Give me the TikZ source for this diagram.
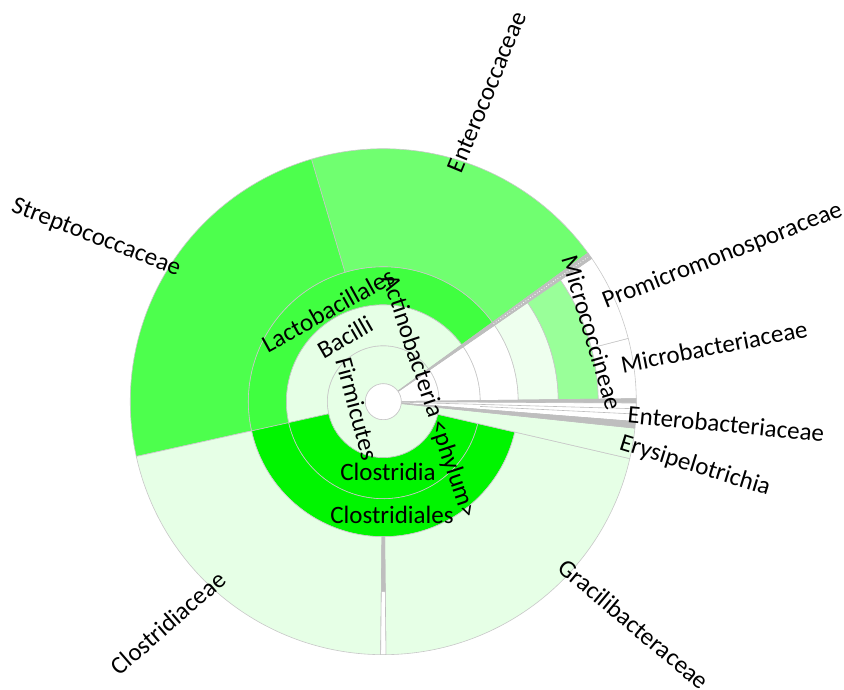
\documentclass[tikz,border=0pt]{standalone}
\usepackage{fontspec}
\setmainfont{Carlito}
\usepackage{tikz}

\definecolor{palegreen}{RGB}{230,255,230}
\definecolor{actgreen}{RGB}{238,255,238}
\definecolor{midgreen}{RGB}{153,255,153}
\definecolor{strepgreen}{RGB}{77,255,77}
\definecolor{lactgreen}{RGB}{64,255,64}
\definecolor{entgreen}{RGB}{112,255,112}
\definecolor{clogreen}{RGB}{0,245,0}
\definecolor{sepgray}{RGB}{190,190,190}
\definecolor{ringgray}{RGB}{200,200,200}

\begin{document}
\begin{tikzpicture}[x=1pt, y=1pt, line width=0.6pt,
  lbl/.style={font=\fontsize{25}{29}\selectfont, inner sep=0pt}]

\useasboundingbox (-383.3,-287.3) rectangle (460.7,401.7);

% draw Firmicutes, phylum ring
\filldraw[fill=palegreen, draw=ringgray] (36 : 18) arc [radius = 18, start angle = 36, end angle = 354]
                                         -- (354 : 56) arc [radius = 56, start angle = 354, end angle = 36]
                                         -- cycle;

% draw Bacilli and Lactobacillales
\filldraw[fill=palegreen, draw=ringgray] (36 : 56) arc [radius = 56, start angle = 36, end angle = 192.5]
                                         -- (192.5 : 97) arc [radius = 97, start angle = 192.5, end angle = 36]
                                         -- cycle;
\filldraw[fill=lactgreen, draw=ringgray] (36 : 97) arc [radius = 97, start angle = 36, end angle = 192.5]
                                         -- (192.5 : 135) arc [radius = 135, start angle = 192.5, end angle = 36]
                                         -- cycle;
\filldraw[fill=entgreen, draw=ringgray] (36 : 135) arc [radius = 135, start angle = 36, end angle = 106.5]
                                        -- (106.5 : 253) arc [radius = 253, start angle = 106.5, end angle = 36]
                                        -- cycle;
\filldraw[fill=strepgreen, draw=ringgray] (106.5 : 135) arc [radius = 135, start angle = 106.5, end angle = 192.5]
                                          -- (192.5 : 253) arc [radius = 253, start angle = 192.5, end angle = 106.5]
                                          -- cycle;

% draw Clostridia and Clostridiales
\filldraw[fill=clogreen, draw=ringgray] (192.5 : 56) arc [radius = 56, start angle = 192.5, end angle = 347]
                                        -- (347 : 97) arc [radius = 97, start angle = 347, end angle = 192.5]
                                        -- cycle;
\filldraw[fill=clogreen, draw=ringgray] (192.5 : 97) arc [radius = 97, start angle = 192.5, end angle = 347]
                                        -- (347 : 135) arc [radius = 135, start angle = 347, end angle = 192.5]
                                        -- cycle;
\filldraw[fill=palegreen, draw=ringgray] (192.5 : 135) arc [radius = 135, start angle = 192.5, end angle = 269.4]
                                         -- (269.4 : 253) arc [radius = 253, start angle = 269.4, end angle = 192.5]
                                         -- cycle;
\filldraw[fill=palegreen, draw=ringgray] (270.6 : 135) arc [radius = 135, start angle = 270.6, end angle = 347]
                                         -- (347 : 253) arc [radius = 253, start angle = 347, end angle = 270.6]
                                         -- cycle;

% draw thin slit between the two families
\filldraw[fill=sepgray, draw=sepgray] (269.4 : 135) arc [radius = 135, start angle = 269.4, end angle = 270.6]
                                      -- (270.6 : 190) arc [radius = 190, start angle = 270.6, end angle = 269.4]
                                      -- cycle;
\filldraw[fill=white, draw=sepgray] (269.4 : 190) arc [radius = 190, start angle = 269.4, end angle = 270.6]
                                    -- (270.6 : 253) arc [radius = 253, start angle = 270.6, end angle = 269.4]
                                    -- cycle;

% draw Erysipelotrichia
\filldraw[fill=palegreen, draw=ringgray] (347 : 56) arc [radius = 56, start angle = 347, end angle = 354]
                                         -- (354 : 253) arc [radius = 253, start angle = 354, end angle = 347]
                                         -- cycle;

% draw Actinobacteria rings
\filldraw[fill=white, draw=ringgray] (0.7 : 18) arc [radius = 18, start angle = 0.7, end angle = 34.5]
                                     -- (34.5 : 56) arc [radius = 56, start angle = 34.5, end angle = 0.7]
                                     -- cycle;
\filldraw[fill=white, draw=ringgray] (0.7 : 56) arc [radius = 56, start angle = 0.7, end angle = 34.5]
                                     -- (34.5 : 97) arc [radius = 97, start angle = 34.5, end angle = 0.7]
                                     -- cycle;
\filldraw[fill=white, draw=ringgray] (0.7 : 97) arc [radius = 97, start angle = 0.7, end angle = 34.5]
                                     -- (34.5 : 135) arc [radius = 135, start angle = 34.5, end angle = 0.7]
                                     -- cycle;
\filldraw[fill=actgreen, draw=ringgray] (0.7 : 135) arc [radius = 135, start angle = 0.7, end angle = 34.5]
                                        -- (34.5 : 175) arc [radius = 175, start angle = 34.5, end angle = 0.7]
                                        -- cycle;
\filldraw[fill=midgreen, draw=ringgray] (0.7 : 175) arc [radius = 175, start angle = 0.7, end angle = 34.5]
                                        -- (34.5 : 215) arc [radius = 215, start angle = 34.5, end angle = 0.7]
                                        -- cycle;
\filldraw[fill=white, draw=ringgray] (0.7 : 215) arc [radius = 215, start angle = 0.7, end angle = 14.5]
                                     -- (14.5 : 253) arc [radius = 253, start angle = 14.5, end angle = 0.7]
                                     -- cycle;
\filldraw[fill=white, draw=ringgray] (14.5 : 215) arc [radius = 215, start angle = 14.5, end angle = 34.5]
                                     -- (34.5 : 253) arc [radius = 253, start angle = 34.5, end angle = 14.5]
                                     -- cycle;

% draw small gray slits
\filldraw[fill=sepgray, draw=sepgray] (34.5 : 18) arc [radius = 18, start angle = 34.5, end angle = 36]
                                      -- (36 : 253) arc [radius = 253, start angle = 36, end angle = 34.5]
                                      -- cycle;
\draw[white, dotted, line width=0.8pt] (35.25 : 135) -- (35.25 : 250);

\filldraw[fill=sepgray, draw=sepgray] (-0.3 : 18) arc [radius = 18, start angle = -0.3, end angle = 0.7]
                                      -- (0.7 : 253) arc [radius = 253, start angle = 0.7, end angle = -0.3]
                                      -- cycle;
\filldraw[fill=white, draw=sepgray] (-4.5 : 18) arc [radius = 18, start angle = -4.5, end angle = -0.3]
                                    -- (-0.3 : 253) arc [radius = 253, start angle = -0.3, end angle = -4.5]
                                    -- cycle;
\draw[sepgray] (-1.6 : 18) -- (-1.6 : 253);
\draw[sepgray] (-2.8 : 97) -- (-2.8 : 253);
\filldraw[fill=sepgray, draw=sepgray] (-6 : 18) arc [radius = 18, start angle = -6, end angle = -4.5]
                                      -- (-4.5 : 253) arc [radius = 253, start angle = -4.5, end angle = -6]
                                      -- cycle;

% draw inner circle
\filldraw[fill=white, draw=ringgray] (0, 0) circle (18);

% draw inner labels
\node (lblActino) [lbl, rotate=-71.5] at (45.5, 5) {Actinobacteria <phylum>};
\node (lblFirmi) [lbl, rotate=-75] at (-26.3, -7.3) {Firmicutes};
\node (lblBacilli) [lbl, rotate=30] at (-38.3, 64.7) {Bacilli};
\node (lblLacto) [lbl, rotate=29] at (-55.3, 91.7) {Lactobacillales};
\node (lblClostria) [lbl] at (4.7, -70.3) {Clostridia};
\node (lblClostles) [lbl] at (8.7, -113.3) {Clostridiales};
\node (lblMicroc) [lbl, rotate=-73.5] at (208.7, 68.7) {Micrococcineae};

% draw outer labels
\node (lblEntero) [lbl, rotate=67.5] at (103.7, 309.7) {Enterococcaceae};
\node (lblStrep) [lbl, rotate=-21] at (-287.3, 163.7) {Streptococcaceae};
\node (lblClosfam) [lbl, rotate=41] at (-215.3, -221.3) {Clostridiaceae};
\node (lblGracil) [lbl, rotate=-40] at (250.7, -222.3) {Gracilibacteraceae};
\node (lblPromi) [lbl, rotate=21.4] at (339.2, 145.7) {Promicromonosporaceae};
\node (lblMicrob) [lbl, rotate=11.1] at (330.7, 55.2) {Microbacteriaceae};
\node (lblEntbac) [lbl, rotate=-5.6] at (342.7, -22.3) {Enterobacteriaceae};
\node (lblErysi) [lbl, rotate=-17.2] at (311.7, -64.3) {Erysipelotrichia};

\end{tikzpicture}
\end{document}
